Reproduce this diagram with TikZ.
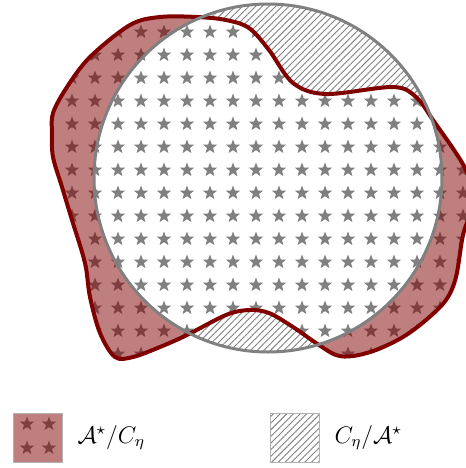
\documentclass[tikz,border=0pt]{standalone}
\usepackage{amsmath, amssymb}
\usetikzlibrary{shapes.geometric, patterns.meta, positioning}
\definecolor{blobred}{RGB}{128,0,0}

\begin{document}
\begin{tikzpicture}[x=.5pt, y=-.5pt,
    pt/.style={star, star points=5, star point ratio=2.4, fill=gray, inner sep=0pt, minimum size=7.5pt},
    hatch/.style={pattern={Lines[angle=45, distance=2.35pt, line width=.45pt]}, pattern color=gray},
    legbox/.style={draw=gray!60, line width=.5pt, minimum size=24.5pt, inner sep=0pt}]
  \useasboundingbox (0,0) rectangle (466,468);
  \def\blobpath{plot[smooth cycle, tension=.55] coordinates {(160,17) (197,17) (226,20) (249,28) (269,50) (293,83) (326,94) (393,87) (416,97) (433,120) (466,170) (472,205) (463,235) (456,277) (446,300) (426,320) (403,337) (376,350) (353,356) (336,355) (316,343) (293,327) (269,313) (249,310) (226,315) (187,335) (160,347) (133,357) (115,357) (100,333) (90,297) (85,263) (72,220) (62,187) (53,157) (52,133) (53,113) (67,87) (90,57) (130,25)}}
  % hatched part of the circle
  \begin{scope}
    \clip (268,178) circle[radius=87pt];
    \fill[hatch] (80,0) rectangle (460,360);
  \end{scope}
  \fill[white] \blobpath;
  % stars and red part of the blob
  \begin{scope}
    \clip \blobpath;
    \foreach \r in {0,...,14}{
      \foreach \c in {0,...,17}{
        \node[pt] (s-\r-\c) at (72+23*\c, 32+23*\r) {};
      }
    }
    \fill[blobred, opacity=.5, even odd rule] (0,0) rectangle (500,400) (268,178) circle[radius=87pt];
  \end{scope}
  \draw[blobred, line width=2pt] \blobpath;
  \draw[gray, line width=1.5pt] (268,178) circle[radius=87pt];
  % legend
  \foreach \r in {0,1}{
    \foreach \c in {0,1}{
      \node[pt] (k-\r-\c) at (27+22*\c, 424+24*\r) {};
    }
  }
  \node[legbox, fill=blobred, fill opacity=.5] (keyA) at (38.5,437.5) {};
  \node[right=3.5pt of keyA] (labA) {\large $\mathcal{A}^\star/C_\eta$};
  \node[legbox, hatch] (keyC) at (295.5,437.5) {};
  \node[right=3.5pt of keyC] (labC) {\large $C_\eta/\mathcal{A}^\star$};
\end{tikzpicture}
\end{document}
